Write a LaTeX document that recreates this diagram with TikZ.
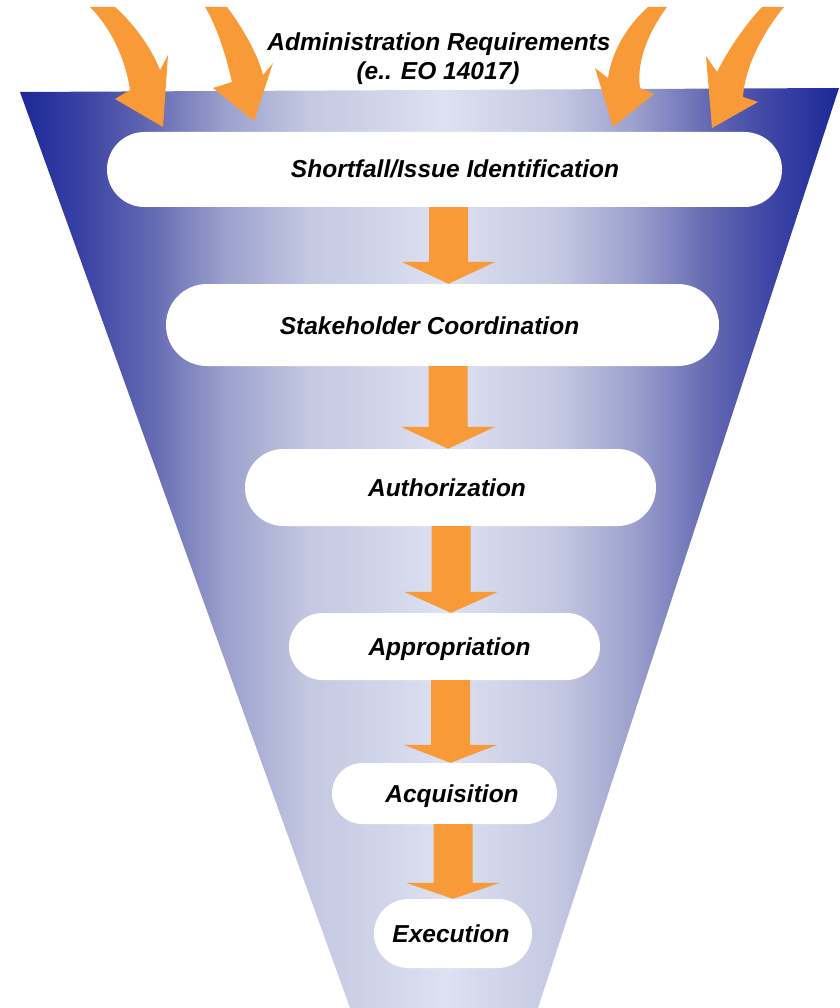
\documentclass[tikz,border=0pt]{standalone}
\usepackage{fontspec}
\setmainfont{Liberation Sans}
\usetikzlibrary{calc}
\definecolor{orng}{RGB}{248,154,56}
\definecolor{fa}{RGB}{28,40,152}
\definecolor{fb}{RGB}{60,68,165}
\definecolor{fc}{RGB}{100,106,178}
\definecolor{fd}{RGB}{155,160,205}
\definecolor{fe}{RGB}{195,199,225}
\definecolor{ff}{RGB}{222,225,241}
\pgfdeclarehorizontalshading{funnelshade}{100bp}{color(0bp)=(fa); color(25bp)=(fa); color(29bp)=(fb); color(33bp)=(fc); color(37.5bp)=(fd); color(42.5bp)=(fe); color(51bp)=(ff); color(58bp)=(fe); color(62.5bp)=(fd); color(67bp)=(fc); color(71bp)=(fb); color(75bp)=(fa); color(100bp)=(fa)}
\tikzset{
  stage/.style={fill=white, draw=none, inner sep=0pt},
  lbl/.style={font=\fontsize{24.5}{29}\selectfont\bfseries\itshape, anchor=base, inner sep=0pt},
  flowarr/.style={fill=orng},
  inarr/.style={fill=orng}
}
\newcommand\flowarrow[4]{%
  \fill[flowarr] let \p1=(#1.south), \p2=(#2.north) in
   (#3pt-19.5pt,\y1) -- (#3pt+19.5pt,\y1) -- (#3pt+19.5pt,\y2+#4pt) -- (#3pt+47pt,\y2+#4pt) -- (#3pt,\y2) -- (#3pt-47pt,\y2+#4pt) -- (#3pt-19.5pt,\y2+#4pt) -- cycle;}
\newcommand\stagebox[5]{%
  \node[stage, minimum width=#4pt, minimum height=#5pt, rounded corners=#5pt/2] (#1) at (#2,#3) {};}
\begin{document}
\begin{tikzpicture}[x=1pt,y=-1pt]
\useasboundingbox (0,0) rectangle (839,1008);
% funnel
\path[shading=funnelshade] (20,92) -- (839,88) -- (538,1008) -- (350,1008) -- cycle;
% incoming curved arrows
\fill[inarr] (90,7) -- (115,7) .. controls (132,22) and (150,45) .. (160,70) -- (168,55) -- (163,127) -- (115,99) -- (130,90) .. controls (125,55) and (108,25) .. (90,7) -- cycle;
\fill[inarr] (205,7) -- (227,7) .. controls (243,28) and (258,55) .. (263,75) -- (273,63) -- (254,121) -- (213,88) -- (232,82) .. controls (227,60) and (218,28) .. (205,7) -- cycle;
\fill[inarr] (648,7) -- (667,7) .. controls (650,30) and (636,60) .. (640,88) -- (654,94) -- (613,127) -- (595,68) -- (608,78) .. controls (612,50) and (628,25) .. (648,7) -- cycle;
\fill[inarr] (762,7) -- (784,7) .. controls (765,30) and (745,65) .. (743,97) -- (758,102) -- (712,128) -- (706,56) -- (717,72) .. controls (728,50) and (745,25) .. (762,7) -- cycle;
% header
\node[lbl] (h1) at (439,51) {Administration Requirements};
\node[lbl] (h2) at (438,80) {(e.. EO 14017)};
% stages
\stagebox{b1}{444.5}{169.5}{675}{75}
\stagebox{b2}{442.5}{325}{553}{82}
\stagebox{b3}{450.5}{487.5}{411}{77}
\stagebox{b4}{444.5}{646.5}{311}{67}
\stagebox{b5}{444.5}{793.5}{225}{61}
\stagebox{b6}{453}{933.5}{158}{69}
\node[lbl] (t1) at (455,178) {Shortfall/Issue Identification};
\node[lbl] (t2) at (429.5,334) {Stakeholder Coordination};
\node[lbl] (t3) at (447,496) {Authorization};
\node[lbl] (t4) at (449.5,655) {Appropriation};
\node[lbl] (t5) at (452,802) {Acquisition};
\node[lbl] (t6) at (451,942) {Execution};
% flow arrows
\flowarrow{b1}{b2}{448.5}{22}
\flowarrow{b2}{b3}{448}{22}
\flowarrow{b3}{b4}{451}{21}
\flowarrow{b4}{b5}{450.5}{18}
\flowarrow{b5}{b6}{453}{16}
\end{tikzpicture}
\end{document}
